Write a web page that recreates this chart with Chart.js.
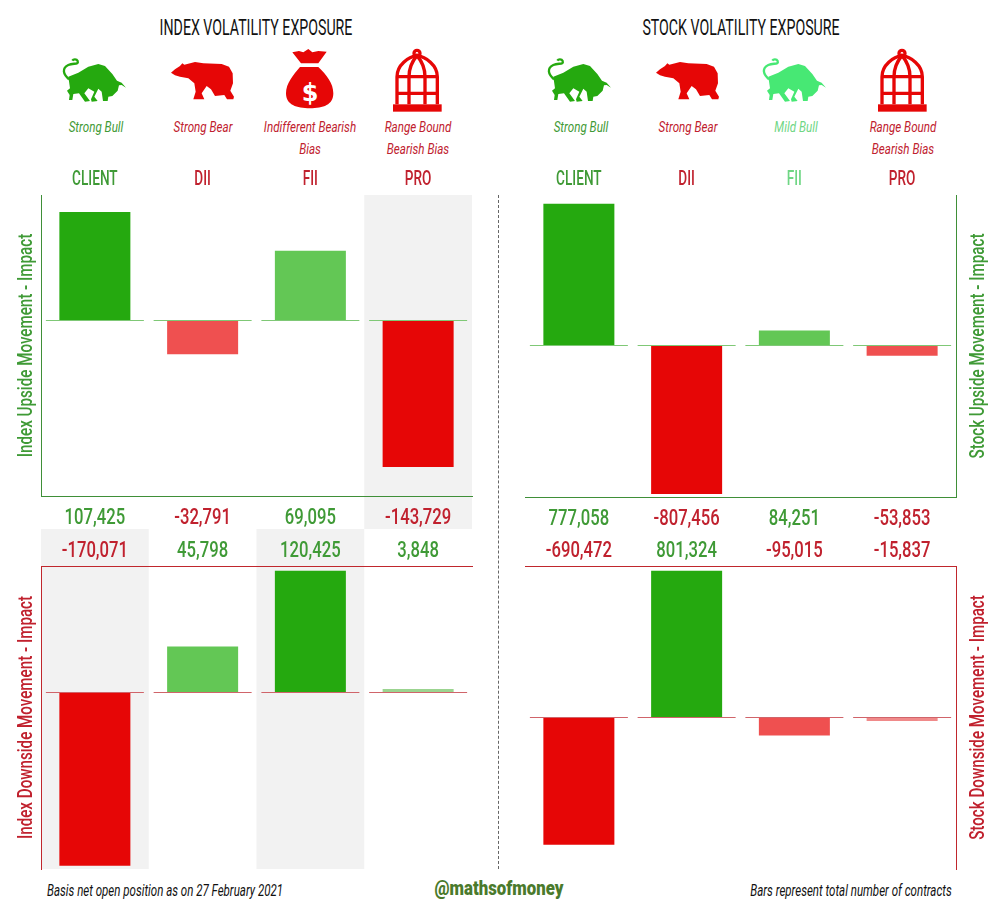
<!DOCTYPE html>
<html>
<head>
<meta charset="utf-8">
<title>Volatility exposure</title>
<script src="https://cdn.jsdelivr.net/npm/chart.js@4/dist/chart.umd.min.js"></script>
<style>
  html, body { margin: 0; padding: 0; background: #fff; }
  #page { position: relative; width: 1001px; height: 904px; overflow: hidden; font-family: Roboto, sans-serif; }
  #page canvas { position: absolute; }
  .t { position: absolute; white-space: nowrap; transform: translate(-50%, -50%) scaleX(var(--sq, 1)); }
  .title { font-size: 22.5px; color: #111; --sq: 0.63; }
  .sub { font-size: 15.5px; font-style: italic; --sq: 0.75; }
  .foot { font-size: 16px; font-style: italic; color: #111; --sq: 0.72; }
  #divider { position: absolute; left: 498px; top: 195px; height: 674px; border-left: 1px dashed #666; }
</style>
</head>
<body>
<div id="page">
  <svg width="1001" height="904" style="position:absolute;left:0;top:0">
    <defs>
      <g id="bull" transform="translate(55,50) scale(0.3333)">
        <path d="M42,88 C24,72 20,55 40,45 C55,38 72,45 68,33 C65,27 55,27 52,32" fill="none" stroke="currentColor" stroke-width="7"/>
        <path d="M40,80 L70,68 L100,50 L130,42 L150,48 L172,72 L186,92 L200,98 L213,113 L200,105 L192,106 L188,122 L172,138 L160,140 L158,153 L144,153 L140,125 L130,116 L118,140 L128,153 L110,155 L108,148 L118,125 L100,115 L88,130 L105,153 L90,155 L72,130 L55,132 L52,150 L42,150 L44,135 L36,122 L45,115 Z" fill="currentColor"/>
      </g>
      <path id="bear" transform="translate(165,50) scale(0.3333)" fill="currentColor" d="M18,68 L30,58 L45,48 L52,40 L58,44 L90,36 L115,40 L170,42 L192,50 L203,70 L204,100 L196,122 L207,140 L205,148 L186,148 L178,135 L150,138 L138,118 L125,108 L110,130 L118,148 L85,148 L92,125 L88,100 L70,85 L45,80 L30,76 Z"/>
      <g id="cage" transform="translate(385,45) scale(0.3333)" fill="none" stroke="currentColor" stroke-width="10">
        <rect x="24" y="178" width="146" height="22" fill="currentColor" stroke="none"/>
        <circle cx="96" cy="25" r="9"/>
        <path d="M36,178 L36,95 C36,60 70,35 96,32 C122,35 157,60 157,95 L157,178"/>
        <path d="M72,178 L72,95 C72,65 85,45 96,32 C107,45 120,65 120,95 L120,178"/>
        <path d="M36,95 L157,95 M36,145 L157,145"/>
      </g>
    </defs>
    <use href="#bull" x="0" color="#25a90f"/>
    <use href="#bear" x="0" color="#e60606"/>
    <g color="#e60606" transform="translate(275,45) scale(0.3333)">
      <path fill="currentColor" d="M52,22 L72,18 L85,22 L100,12 L112,22 L130,18 L155,20 L130,55 L78,55 Z"/>
      <path fill="currentColor" d="M75,66 L130,66 C155,90 175,115 175,145 C175,180 145,190 105,190 C65,190 33,180 33,145 C33,115 55,90 75,66 Z"/>
    </g>
    <text x="310" y="101" text-anchor="middle" font-family="DejaVu Sans" font-weight="bold" font-size="24" fill="#fff">$</text>
    <use href="#cage" x="0" color="#e60606"/>
    <use href="#bull" x="485" color="#25a90f"/>
    <use href="#bear" x="485" color="#e60606"/>
    <use href="#bull" x="700" color="#47e874"/>
    <use href="#cage" x="485" color="#e60606"/>
  </svg>

  <div class="t title" style="left:256px;top:27px">INDEX VOLATILITY EXPOSURE</div>
  <div class="t title" style="left:741px;top:27px">STOCK VOLATILITY EXPOSURE</div>
  <div id="subs"></div>
  <div id="divider"></div>
  <div class="t foot" style="left:164.5px;top:890px">Basis net open position as on 27 February 2021</div>
  <div class="t" style="left:499px;top:888px;font-size:20px;font-weight:900;color:#4a7a2c;--sq:0.84">@mathsofmoney</div>
  <div class="t foot" style="left:850.5px;top:890px">Bars represent total number of contracts</div>
</div>
<script>
const categories = ["CLIENT", "DII", "FII", "PRO"];
const indexUpside = [107425, -32791, 69095, -143729];
const indexDownside = [-170071, 45798, 120425, 3848];
const stockUpside = [777058, -807456, 84251, -53853];
const stockDownside = [-690472, 801324, -95015, -15837];
const indexBias = [["Strong Bull"], ["Strong Bear"], ["Indifferent Bearish", "Bias"], ["Range Bound", "Bearish Bias"]];
const stockBias = [["Strong Bull"], ["Strong Bear"], ["Mild Bull"], ["Range Bound", "Bearish Bias"]];

const FONT = "Roboto, sans-serif";
const GREEN = "#25a90f", LGREEN = "#63c755", PGREEN = "#9bd490";
const RED = "#e60606", LRED = "#ef5050", PRED = "#f08a8a";
const TXT_GREEN = "#3f9a36", TXT_RED = "#c0212e", TXT_MILD = "#6fd684";
const AXIS_GREEN = "#3f8f38", AXIS_RED = "#c0272d";

// no narrow font is installed, so canvas text is squeezed by font size
const SQUEEZE = { 22.5: 0.74, 20: 0.68, 20.5: 0.74 };

function narrowText(ctx) {
  const fill = ctx.fillText.bind(ctx);
  ctx.fillText = (s, x, y) => {
    const size = parseFloat(ctx.font.match(/([\d.]+)px/)[1]);
    ctx.save();
    ctx.translate(x, y);
    ctx.scale(SQUEEZE[size] || 1, 1);
    fill(s, 0, 0);
    ctx.restore();
  };
}

// grey bands, the short baseline above each bar's zero, and right side titles
const panelMarks = {
  id: "panelMarks",
  beforeDraw(chart, args, o) {
    const { ctx, chartArea, scales } = chart;
    const w = scales.x.getPixelForValue(1) - scales.x.getPixelForValue(0);
    const top = o.bandFromTop ? 0 : chartArea.top;
    const bottom = o.bandFromTop ? chartArea.bottom : chart.height;
    ctx.save();
    ctx.fillStyle = "#f2f2f2";
    o.bands.forEach(i => {
      const x = scales.x.getPixelForValue(i);
      ctx.fillRect(x - w / 2, top, w, bottom - top);
    });
    ctx.restore();
  },
  afterDatasetsDraw(chart, args, o) {
    const { ctx, scales } = chart;
    const y = Math.round(scales.y.getPixelForValue(0)) - 0.5;
    ctx.save();
    ctx.strokeStyle = o.line;
    ctx.lineWidth = 1;
    categories.forEach((c, i) => {
      const x = scales.x.getPixelForValue(i);
      ctx.beginPath();
      ctx.moveTo(x - 49, y);
      ctx.lineTo(x + 49, y);
      ctx.stroke();
    });
    ctx.restore();
  },
  afterDraw(chart, args, o) {
    if (!o.sideTitle) return;
    const { ctx, chartArea } = chart;
    ctx.save();
    ctx.translate(chartArea.right + 23, (chartArea.top + chartArea.bottom) / 2);
    ctx.rotate(-Math.PI / 2);
    ctx.font = "500 20.5px " + FONT;
    ctx.fillStyle = o.titleColor;
    ctx.textAlign = "center";
    ctx.textBaseline = "middle";
    ctx.fillText(o.sideTitle, 0, 0);
    ctx.restore();
  }
};

function panel(cfg) {
  const c = document.createElement("canvas");
  c.width = cfg.width;
  c.height = cfg.height;
  c.style.left = cfg.left + "px";
  c.style.top = cfg.top + "px";
  document.getElementById("page").appendChild(c);
  narrowText(c.getContext("2d"));
  const xPos = cfg.upper ? "bottom" : "top";
  const yPos = cfg.right ? "right" : "left";
  const scales = {
    x: {
      type: "category",
      position: xPos,
      offset: true,
      grid: { display: false, drawTicks: false },
      border: { display: true, color: cfg.axis, width: 1 },
      afterFit: s => { s.height = cfg.valueH; },
      ticks: {
        autoSkip: false,
        maxRotation: 0,
        minRotation: 0,
        padding: cfg.valuePad,
        font: { family: FONT, size: 22.5, weight: "500" },
        color: ctx => (cfg.values[ctx.index] < 0 ? TXT_RED : TXT_GREEN),
        callback: (v, i) => cfg.values[i].toLocaleString("en-US")
      }
    },
    y: {
      position: yPos,
      min: cfg.min,
      max: cfg.max,
      grid: { display: false, drawTicks: false },
      border: { display: true, color: cfg.axis, width: 1 },
      afterFit: s => { s.width = cfg.yW; },
      ticks: { display: false },
      title: { display: !cfg.right, text: cfg.yTitle, color: cfg.titleColor, font: { family: FONT, size: 20.5, weight: "500" }, padding: { top: 15, bottom: 0 } }
    }
  };
  if (cfg.upper) {
    scales.x2 = {
      type: "category",
      axis: "x",
      labels: categories,
      position: "top",
      offset: true,
      grid: { display: false, drawTicks: false },
      border: { display: false },
      afterFit: s => { s.height = cfg.headH; },
      ticks: {
        autoSkip: false,
        maxRotation: 0,
        padding: 3,
        font: { family: FONT, size: 20, weight: "500" },
        color: ctx => cfg.headColors[ctx.index]
      }
    };
  }
  return new Chart(c, {
    type: "bar",
    data: {
      labels: categories,
      datasets: [{
        data: cfg.values,
        backgroundColor: cfg.colors,
        categoryPercentage: 1,
        barPercentage: 0.659
      }]
    },
    options: {
      responsive: false,
      animation: false,
      devicePixelRatio: 1,
      layout: { padding: cfg.pad },
      plugins: {
        legend: { display: false },
        tooltip: { enabled: false },
        panelMarks: { bands: cfg.bands, line: cfg.zero, bandFromTop: !cfg.upper, sideTitle: cfg.right ? cfg.yTitle : null, titleColor: cfg.titleColor }
      },
      scales
    },
    plugins: [panelMarks]
  });
}

const indexHead = [TXT_GREEN, TXT_RED, TXT_RED, TXT_RED];
const stockHead = [TXT_GREEN, TXT_RED, TXT_MILD, TXT_RED];
const ZERO_UP = "#7fc876", ZERO_DOWN = "#d0646a";

panel({ left: 0, top: 160, width: 490, height: 369, upper: true, values: indexUpside, min: -172375, max: 124110,
  colors: [GREEN, LRED, LGREEN, RED], axis: AXIS_GREEN, zero: ZERO_UP, titleColor: TXT_GREEN,
  yTitle: "Index Upside Movement - Impact", yW: 41, headH: 35, valueH: 33, valuePad: 9, headColors: indexHead,
  pad: { left: 0, right: 18, top: 0, bottom: 0 }, bands: [3] });
panel({ left: 505, top: 160, width: 490, height: 370, upper: true, right: true, values: stockUpside, min: -824460, max: 824460,
  colors: [GREEN, RED, LGREEN, LRED], axis: AXIS_GREEN, zero: ZERO_UP, titleColor: TXT_GREEN,
  yTitle: "Stock Upside Movement - Impact", yW: 39, headH: 35, valueH: 33, valuePad: 9, headColors: stockHead,
  pad: { left: 20, right: 0, top: 0, bottom: 0 }, bands: [] });
panel({ left: 0, top: 529, width: 490, height: 341, upper: false, values: indexDownside, min: -173360, max: 125095,
  colors: [RED, LGREEN, GREEN, PGREEN], axis: AXIS_RED, zero: ZERO_DOWN, titleColor: TXT_RED,
  yTitle: "Index Downside Movement - Impact", yW: 41, valueH: 37, valuePad: 1,
  pad: { left: 0, right: 18, top: 0, bottom: 1 }, bands: [0, 2] });
panel({ left: 505, top: 529, width: 490, height: 341, upper: false, right: true, values: stockDownside, min: -822195, max: 827640,
  colors: [RED, GREEN, LRED, PRED], axis: AXIS_RED, zero: ZERO_DOWN, titleColor: TXT_RED,
  yTitle: "Stock Downside Movement - Impact", yW: 39, valueH: 37, valuePad: 1,
  pad: { left: 20, right: 0, top: 0, bottom: 1 }, bands: [] });

// bias captions under the icons
const subs = document.getElementById("subs");
function captions(list, xs, colors) {
  list.forEach((lines, i) => lines.forEach((txt, k) => {
    const d = document.createElement("div");
    d.className = "t sub";
    d.style.left = xs[i] + "px";
    d.style.top = (127 + k * 22) + "px";
    d.style.color = colors[i];
    d.textContent = txt;
    subs.appendChild(d);
  }));
}
captions(indexBias, [96, 203, 310, 418], indexHead);
captions(stockBias, [581, 688, 796, 903], stockHead);
</script>
</body>
</html>
